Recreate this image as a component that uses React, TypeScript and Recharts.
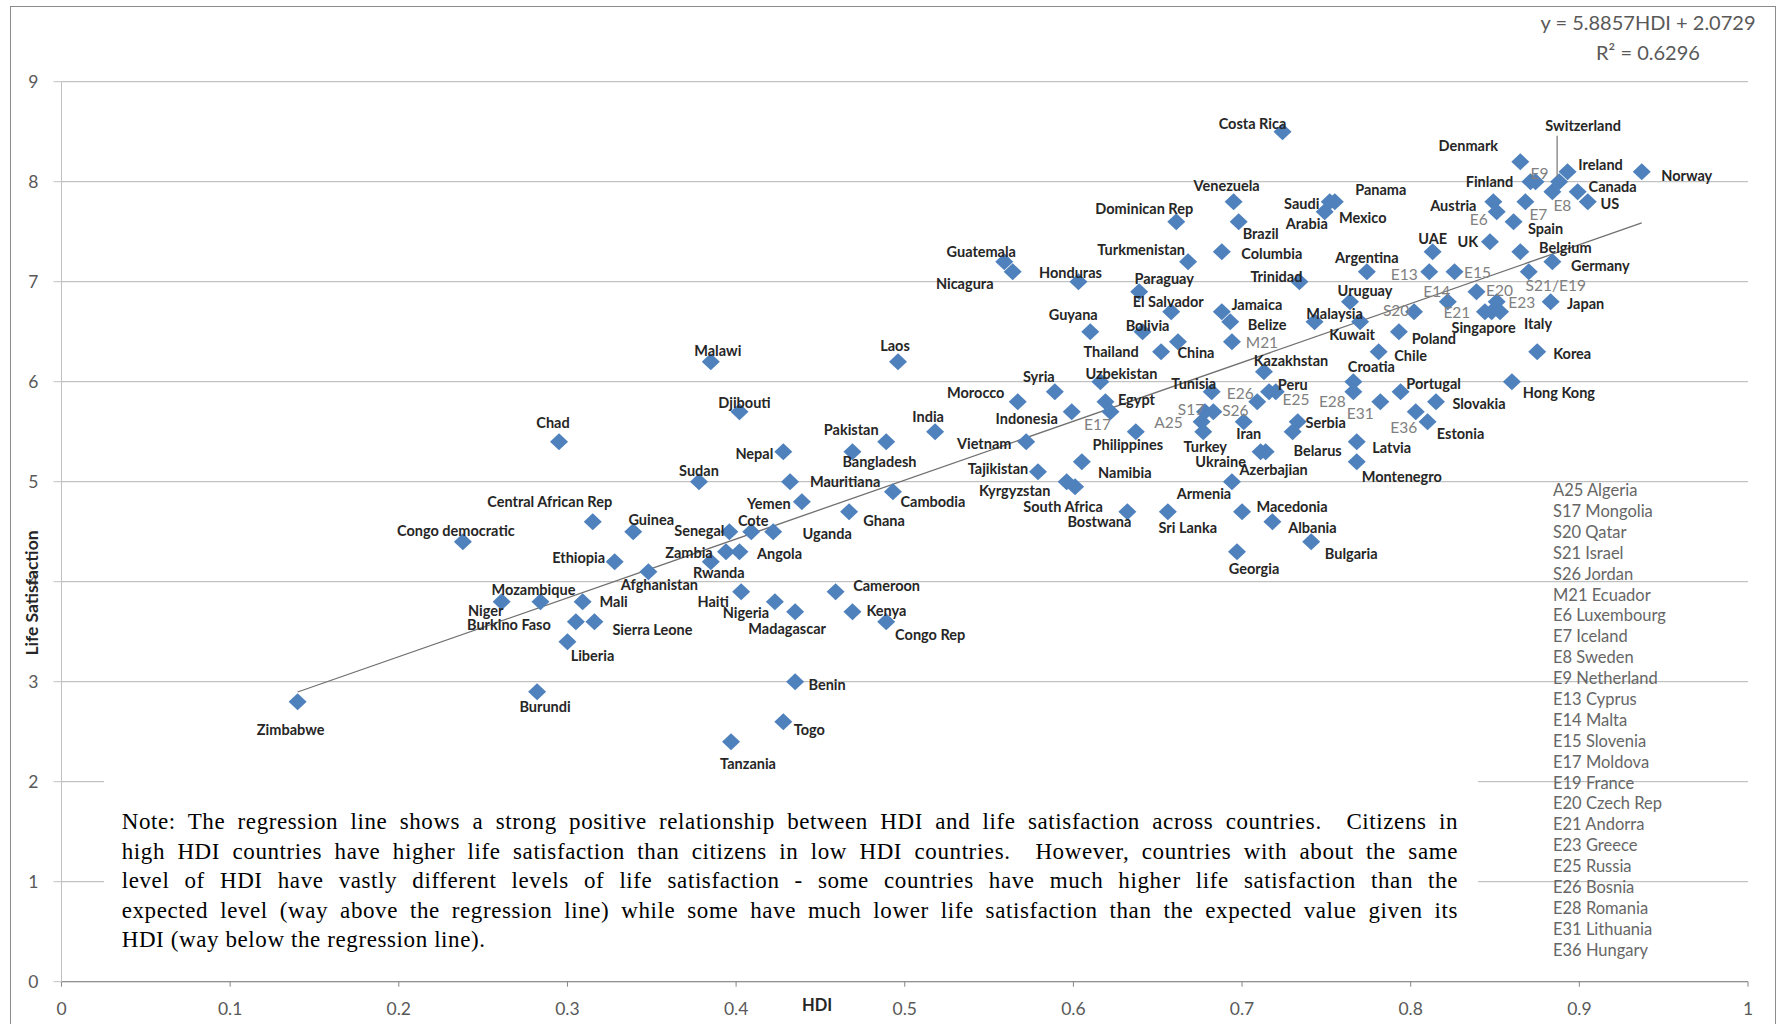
import React from 'react';
import { ScatterChart, Scatter, XAxis, YAxis, CartesianGrid, ReferenceLine } from 'recharts';

// countries, HDI and life satisfaction (same order in all three lists)
const countries = [
  'Zimbabwe', 'Burundi', 'Congo democratic', 'Niger', 'Mozambique', 'Chad', 'Liberia', 'Burkino Faso', 'Mali', 'Central African Rep',
  'Sierra Leone', 'Ethiopia', 'Guinea', 'Afghanistan', 'Sudan', 'Malawi', 'Rwanda', 'Zambia', 'Senegal', 'Tanzania',
  'Djibouti', 'Angola', 'Haiti', 'Cote', 'Uganda', 'Nigeria', 'Togo', 'Nepal', 'Mauritiana', 'Madagascar',
  'Benin', 'Yemen', 'Cameroon', 'Ghana', 'Bangladesh', 'Kenya', 'Congo Rep', 'Pakistan', 'Cambodia', 'Laos',
  'India', 'Guatemala', 'Nicagura', 'Morocco', 'Vietnam', 'Tajikistan', 'Syria', 'Kyrgyzstan', 'South Africa', 'Indonesia',
  'Honduras', 'Namibia', 'Guyana', 'Uzbekistan', 'Egypt', 'E17', 'Bostwana', 'Philippines', 'Paraguay', 'Bolivia',
  'Thailand', 'Sri Lanka', 'El Salvador', 'Dominican Rep', 'China', 'Turkmenistan', 'A25', 'Turkey', 'S17', 'S26',
  'Tunisia', 'Columbia', 'Jamaica', 'Belize', 'Armenia', 'M21', 'Venezuela', 'Georgia', 'Brazil', 'Macedonia',
  'Iran', 'E26', 'Ukraine', 'Azerbajian', 'Kazakhstan', 'E25', 'Albania', 'Peru', 'Costa Rica', 'Belarus',
  'Serbia', 'Trinidad', 'Bulgaria', 'Malaysia', 'Mexico', 'Saudi Arabia', 'Panama', 'Uruguay', 'Croatia', 'E28',
  'Latvia', 'Montenegro', 'Kuwait', 'Argentina', 'Chile', 'E31', 'Poland', 'Portugal', 'S20', 'E36',
  'Estonia', 'E13', 'UAE', 'Slovakia', 'E14', 'E15', 'E20', 'E21', 'UK', 'Singapore',
  'Austria', 'E6', 'E23', 'Italy', 'Hong Kong', 'Spain', 'Denmark', 'Belgium', 'E7', 'S21/E19',
  'Finland', 'E9', 'Korea', 'Japan', 'E8', 'Germany', 'Switzerland', 'Ireland', 'Canada', 'US',
  'Norway',
];

const hdi = [
  0.140, 0.282, 0.238, 0.261, 0.284, 0.295, 0.300, 0.305, 0.309, 0.315,
  0.316, 0.328, 0.339, 0.348, 0.378, 0.385, 0.385, 0.394, 0.396, 0.397,
  0.402, 0.402, 0.403, 0.409, 0.422, 0.423, 0.428, 0.428, 0.432, 0.435,
  0.435, 0.439, 0.459, 0.467, 0.469, 0.469, 0.489, 0.489, 0.493, 0.496,
  0.518, 0.559, 0.564, 0.567, 0.572, 0.579, 0.589, 0.596, 0.601, 0.599,
  0.603, 0.605, 0.610, 0.616, 0.619, 0.622, 0.632, 0.637, 0.639, 0.641,
  0.652, 0.656, 0.658, 0.661, 0.662, 0.668, 0.676, 0.677, 0.678, 0.683,
  0.682, 0.688, 0.688, 0.693, 0.694, 0.694, 0.695, 0.697, 0.698, 0.700,
  0.701, 0.709, 0.711, 0.714, 0.713, 0.716, 0.718, 0.720, 0.724, 0.730,
  0.733, 0.734, 0.741, 0.743, 0.749, 0.752, 0.755, 0.764, 0.766, 0.766,
  0.768, 0.768, 0.770, 0.774, 0.781, 0.782, 0.793, 0.794, 0.802, 0.803,
  0.810, 0.811, 0.813, 0.815, 0.822, 0.826, 0.839, 0.844, 0.847, 0.848,
  0.849, 0.851, 0.851, 0.853, 0.860, 0.861, 0.865, 0.865, 0.868, 0.870,
  0.871, 0.874, 0.875, 0.883, 0.884, 0.884, 0.888, 0.893, 0.899, 0.905,
  0.937,
];

const lifeSat = [
  2.8, 2.9, 4.4, 3.8, 3.8, 5.4, 3.4, 3.6, 3.8, 4.6,
  3.6, 4.2, 4.5, 4.1, 5.0, 6.2, 4.2, 4.3, 4.5, 2.4,
  5.7, 4.3, 3.9, 4.5, 4.5, 3.8, 2.6, 5.3, 5.0, 3.7,
  3.0, 4.8, 3.9, 4.7, 5.3, 3.7, 3.6, 5.4, 4.9, 6.2,
  5.5, 7.2, 7.1, 5.8, 5.4, 5.1, 5.9, 5.0, 4.95, 5.7,
  7.0, 5.2, 6.5, 6.0, 5.8, 5.7, 4.7, 5.5, 6.9, 6.5,
  6.3, 4.7, 6.7, 7.6, 6.4, 7.2, 5.6, 5.5, 5.7, 5.7,
  5.9, 7.3, 6.7, 6.6, 5.0, 6.4, 7.8, 4.3, 7.6, 4.7,
  5.6, 5.8, 5.3, 5.3, 6.1, 5.9, 4.6, 5.9, 8.5, 5.5,
  5.6, 7.0, 4.4, 6.6, 7.7, 7.8, 7.8, 6.8, 6.0, 5.9,
  5.4, 5.2, 6.6, 7.1, 6.3, 5.8, 6.5, 5.9, 6.7, 5.7,
  5.6, 7.1, 7.3, 5.8, 6.8, 7.1, 6.9, 6.7, 7.4, 6.7,
  7.8, 7.7, 6.8, 6.7, 6.0, 7.6, 8.2, 7.3, 7.8, 7.1,
  8.0, 8.0, 6.3, 6.8, 7.9, 7.2, 8.0, 8.1, 7.9, 7.8,
  8.1,
];

const xTicks = [0, 0.1, 0.2, 0.3, 0.4, 0.5, 0.6, 0.7, 0.8, 0.9, 1];
const yTicks = [0, 1, 2, 3, 4, 5, 6, 7, 8, 9];

const codeLegend = [
  'A25 Algeria', 'S17 Mongolia', 'S20 Qatar', 'S21 Israel', 'S26 Jordan', 'M21 Ecuador',
  'E6 Luxembourg', 'E7 Iceland', 'E8 Sweden', 'E9 Netherland', 'E13 Cyprus', 'E14 Malta',
  'E15 Slovenia', 'E17 Moldova', 'E19 France', 'E20 Czech Rep', 'E21 Andorra', 'E23 Greece',
  'E25 Russia', 'E26 Bosnia', 'E28 Romania', 'E31 Lithuania', 'E36 Hungary',
];

const noteLines = [
  'Note: The regression line shows a strong positive relationship between HDI and life satisfaction across countries.  Citizens in',
  'high HDI countries have higher life satisfaction than citizens in low HDI countries.  However, countries with about the same',
  'level of HDI have vastly different levels of life satisfaction - some countries have much higher life satisfaction than the',
  'expected level (way above the regression line) while some have much lower life satisfaction than the expected value given its',
  'HDI (way below the regression line).',
];

const slope = 5.8857;
const intercept = 2.0729;
const rSquared = 0.6296;

// where each data label sits relative to its marker (label centre, px)
const labelOffset: Record<string, [number, number]> = {
  Zimbabwe: [-7, 28], Burundi: [8, 15], 'Congo democratic': [-7, -11], Niger: [-16, 9], Mozambique: [-7, -12],
  Chad: [-6, -19], Liberia: [25, 14], 'Burkino Faso': [-67, 3], Mali: [31, 0], 'Central African Rep': [-43, -20],
  'Sierra Leone': [58, 8], Ethiopia: [-36, -4], Guinea: [18, -12], Afghanistan: [11, 13], Sudan: [0, -11],
  Malawi: [7, -11], Rwanda: [8, 11], Zambia: [-37, 1], Senegal: [-30, -1], Tanzania: [17, 22],
  Djibouti: [5, -9], Angola: [40, 2], Haiti: [-28, 10], Cote: [2, -11], Uganda: [54, 2],
  Nigeria: [-29, 11], Togo: [26, 8], Nepal: [-29, 2], Mauritiana: [55, 0], Madagascar: [-8, 17],
  Benin: [32, 3], Yemen: [-33, 2], Cameroon: [51, -6], Ghana: [35, 9], Bangladesh: [27, 10],
  Kenya: [34, -1], 'Congo Rep': [44, 13], Pakistan: [-35, -12], Cambodia: [40, 10], Laos: [-3, -16],
  India: [-7, -15], Guatemala: [-23, -10], Nicagura: [-48, 12], Morocco: [-42, -9], Vietnam: [-42, 2],
  Tajikistan: [-40, -3], Syria: [-16, -15], Kyrgyzstan: [-52, 9], 'South Africa': [-12, 20], Indonesia: [-45, 7],
  Honduras: [-8, -9], Namibia: [43, 11], Guyana: [-17, -17], Uzbekistan: [21, -8], Egypt: [31, -2],
  E17: [-13, 12], Bostwana: [-28, 10], Philippines: [-8, 13], Paraguay: [25, -13], Bolivia: [5, -6],
  Thailand: [-50, 0], 'Sri Lanka': [20, 16], 'El Salvador': [-3, -10], 'Dominican Rep': [-32, -13], China: [18, 11],
  Turkmenistan: [-47, -12], A25: [-33, 0], Turkey: [2, 15], S17: [-14, -3], S26: [22, -2],
  Tunisia: [-18, -8], Columbia: [50, 2], Jamaica: [35, -7], Belize: [37, 3], Armenia: [-28, 12],
  M21: [30, 0], Venezuela: [-7, -16], Georgia: [17, 17], Brazil: [22, 12], Macedonia: [50, -5],
  Iran: [5, 12], E26: [-17, -9], Ukraine: [-40, 10], Azerbajian: [8, 18], Kazakhstan: [27, -11],
  E25: [27, 7], Albania: [40, 6], Peru: [17, -7], 'Costa Rica': [-30, -8], Belarus: [25, 19],
  Serbia: [28, 1], Trinidad: [-23, -5], Bulgaria: [40, 12], Malaysia: [20, -8], Mexico: [38, 6],
  'Saudi Arabia': [-28, 2], Panama: [46, -12], Uruguay: [15, -11], Croatia: [18, -15], E28: [-21, 9],
  Latvia: [35, 6], Montenegro: [45, 15], Kuwait: [-8, 13], Argentina: [0, -14], Chile: [32, 4],
  E31: [-20, 11], Poland: [35, 7], Portugal: [33, -8], S20: [-18, -2], E36: [-12, 15],
  Estonia: [33, 12], E13: [-25, 2], UAE: [0, -13], Slovakia: [43, 2], E14: [-11, -11],
  E15: [23, 0], E20: [23, -2], E21: [-28, 0], UK: [-22, 0], Singapore: [-8, 16],
  Austria: [-40, 4], E6: [-18, 7], E23: [25, 0], Italy: [38, 12], 'Hong Kong': [47, 11],
  Spain: [32, 7], Denmark: [-52, -16], Belgium: [45, -4], E7: [13, 12], 'S21/E19': [27, 13],
  Finland: [-41, 0], E9: [4, -9], Korea: [35, 2], Japan: [35, 2], E8: [10, 13],
  Germany: [48, 4], Switzerland: [24, -56], Ireland: [33, -7], Canada: [35, -5], US: [22, 2],
  Norway: [45, 4],
};

const points = countries.map((name, i) => ({ name, hdi: hdi[i], ls: lifeSat[i] }));
const hMin = Math.min(...hdi);
const hMax = Math.max(...hdi);

const isCode = (n: string) => /^[A-Z]\d/.test(n);

const Diamond = (props: any) => {
  const { cx, cy } = props;
  if (cx == null || cy == null) return null;
  return <path d={`M${cx},${cy - 8.5}L${cx + 9},${cy}L${cx},${cy + 8.5}L${cx - 9},${cy}Z`} fill="#4F81BD" />;
};

const PointLabel = (props: any) => {
  const { cx, cy } = props;
  const name: string = props.payload?.name ?? props.name;
  if (cx == null || cy == null || !name) return null;
  const [dx, dy] = labelOffset[name] ?? [0, -14];
  const code = isCode(name);
  const style = code
    ? { fontFamily: 'Lato', fontSize: 15.5, fontWeight: 400, fill: '#808080' }
    : { fontFamily: 'Lato', fontSize: 14.5, fontWeight: 700, fill: '#262626' };
  if (name === 'Saudi Arabia') {
    return (
      <g>
        <text x={cx + dx} y={cy + dy} textAnchor="middle" dominantBaseline="central" {...style}>Saudi</text>
        <text x={cx + dx + 5} y={cy + dy + 20} textAnchor="middle" dominantBaseline="central" {...style}>Arabia</text>
      </g>
    );
  }
  return (
    <g>
      {name === 'Switzerland' && <line x1={cx - 2} y1={cy - 46} x2={cx - 2} y2={cy - 5} stroke="#7f7f7f" strokeWidth={1.3} />}
      <text x={cx + dx} y={cy + dy} textAnchor="middle" dominantBaseline="central" {...style}>{name}</text>
    </g>
  );
};

export default function App() {
  return (
    <div style={{ position: 'absolute', left: 0, top: 0, width: 1780, height: 1024, background: '#fff', overflow: 'hidden' }}>
      <ScatterChart width={1780} height={1024} margin={{ top: 81.7, right: 32, bottom: 0, left: 0 }}>
        <CartesianGrid horizontal vertical={false} stroke="#b3b3b3" />
        <XAxis
          type="number"
          dataKey="hdi"
          domain={[0, 1]}
          ticks={xTicks}
          interval={0}
          height={42.3}
          tickSize={5}
          tickMargin={16}
          stroke="#868686"
          tick={{ fill: '#595959', fontSize: 17.5, fontFamily: 'Lato' }}
        />
        <YAxis
          type="number"
          dataKey="ls"
          domain={[0, 9]}
          ticks={yTicks}
          interval={0}
          width={61.5}
          tickSize={8}
          tickMargin={15}
          stroke="#c0c0c0"
          tick={{ fill: '#595959', fontSize: 17.5, fontFamily: 'Lato' }}
        />
        <Scatter data={points} shape={Diamond} isAnimationActive={false} />
        <ReferenceLine
          segment={[
            { x: hMin, y: intercept + slope * hMin },
            { x: hMax, y: intercept + slope * hMax },
          ]}
          stroke="#707070"
          strokeWidth={1.3}
        />
        <Scatter data={points} shape={PointLabel} isAnimationActive={false} />
      </ScatterChart>

      {/* chart frame */}
      <div style={{ position: 'absolute', left: 10, top: 6, width: 1764, height: 1020, border: '1.5px solid #8c8c8c', borderBottom: 'none', pointerEvents: 'none' }} />

      {/* trendline equation */}
      <div style={{ position: 'absolute', left: 1498, top: 7, width: 300, textAlign: 'center', fontFamily: 'Lato', fontSize: 20, color: '#595959', lineHeight: '30px' }}>
        <div>y = {slope}HDI + {intercept}</div>
        <div>R² = {rSquared}</div>
      </div>

      {/* axis titles */}
      <div style={{ position: 'absolute', left: 32 - 100, top: 593 - 12, width: 200, height: 24, lineHeight: '24px', textAlign: 'center', transform: 'rotate(-90deg)', fontFamily: 'Lato', fontWeight: 700, fontSize: 17.5, color: '#262626' }}>
        Life Satisfaction
      </div>
      <div style={{ position: 'absolute', left: 817 - 30, top: 1005 - 12, width: 60, height: 24, lineHeight: '24px', textAlign: 'center', fontFamily: 'Lato', fontWeight: 700, fontSize: 16.5, color: '#262626' }}>
        HDI
      </div>

      {/* note */}
      <div style={{ position: 'absolute', left: 104, top: 776, width: 1374, height: 184, background: '#fff', boxSizing: 'border-box', padding: '31px 20px 0 17.7px', fontFamily: '"Liberation Serif", serif', fontSize: 23, letterSpacing: 0.6, lineHeight: '29.5px', color: '#000' }}>
        {noteLines.map((line, i) => (
          <div key={i} style={{ textAlign: 'justify', textAlignLast: i < noteLines.length - 1 ? 'justify' : 'left', whiteSpace: 'pre-wrap' }}>
            {line}
          </div>
        ))}
      </div>

      {/* code list */}
      {codeLegend.map((item, i) => (
        <div key={item} style={{ position: 'absolute', left: 1553, top: 490.7 - 10.5 + i * 20.88, height: 21, lineHeight: '21px', fontFamily: 'Lato', fontSize: 16.5, color: '#666', whiteSpace: 'nowrap' }}>
          {item}
        </div>
      ))}
    </div>
  );
}
